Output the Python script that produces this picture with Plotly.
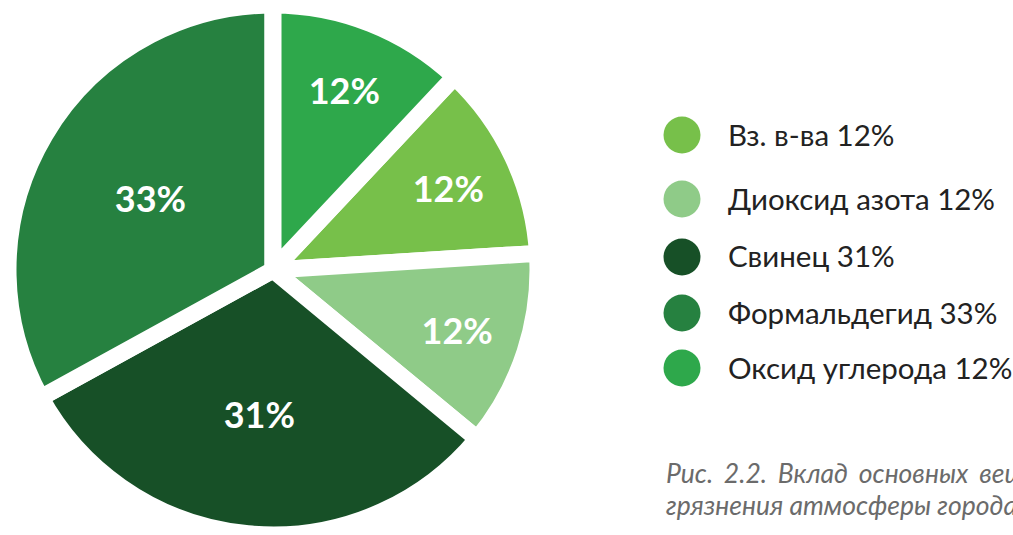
import plotly.graph_objects as go

labels = ["Вз. в-ва", "Диоксид азота", "Свинец", "Формальдегид", "Оксид углерода"]
values = [12, 12, 31, 33, 12]
colors = ["#77c04a", "#8fcb88", "#175027", "#268140", "#2ea84b"]
caption_lines = ["Рис.\u2009\u200a 2.2.\u2009\u200a Вклад\u2009\u200a основных\u2009\u200a веществ\u2009\u200a в\u2009\u200a за-",
                 "грязнения атмосферы города"]

W, H = 1013, 535
FONT = "Lato, 'Open Sans', sans-serif"


def px(x):                   # screen x -> paper
    return x / W


def py(y):                   # screen y -> paper
    return 1 - y / H


fig = go.Figure()
cx0, cy0, R = 273, 270, 265
fig.add_trace(go.Pie(
    labels=labels, values=values, sort=False, direction="clockwise",
    rotation=360 * values[-1] / sum(values),
    marker=dict(colors=colors, line=dict(color="white", width=17)),
    texttemplate="%{value}%", textposition="inside",
    insidetextorientation="horizontal",
    textfont=dict(family=FONT, size=36, color="white", weight="bold"),
    domain=dict(x=[px(cx0 - R), px(cx0 + R)], y=[max(0, py(cy0 + R)), py(cy0 - R)]),
    showlegend=False, hoverinfo="label+percent",
))

# custom legend with circular markers
shapes, annotations = [], []
lx, r = 682, 18.5
ys = [135, 199, 257, 313, 368]
for lab, val, col, cy in zip(labels, values, colors, ys):
    shapes.append(dict(type="circle", xref="paper", yref="paper",
                       x0=px(lx - r), x1=px(lx + r),
                       y0=py(cy + r), y1=py(cy - r),
                       fillcolor=col, line=dict(width=0)))
    annotations.append(dict(x=px(726), y=py(cy - 1), xref="paper", yref="paper",
                            xanchor="left", yanchor="middle", showarrow=False,
                            text=f"{lab} {val}%",
                            font=dict(family=FONT, size=29.5, color="#222222")))

for line, ly in zip(caption_lines, [473, 505]):
    annotations.append(dict(x=px(664), y=py(ly), xref="paper", yref="paper",
                            xanchor="left", yanchor="middle", showarrow=False,
                            text=f"<i>{line}</i>",
                            font=dict(family=FONT, size=26.5, color="#6b6b6b", style="italic")))

fig.update_layout(width=W, height=H, margin=dict(l=0, r=0, t=0, b=0),
                  paper_bgcolor="white", plot_bgcolor="white",
                  shapes=shapes, annotations=annotations)
fig.write_html(
    "out.html",
    config={"displayModeBar": False},
    post_script="document.documentElement.style.overflow='hidden';"
                "document.body.style.margin='0';document.body.style.overflow='hidden';",
)
